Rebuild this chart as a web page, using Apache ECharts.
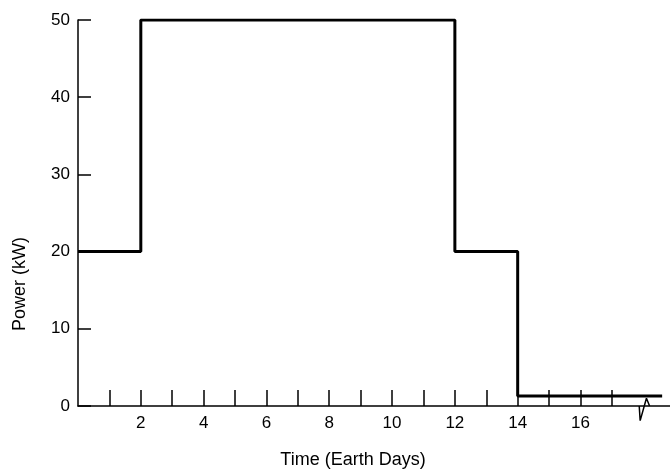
<!DOCTYPE html>
<html>
<head>
<meta charset="utf-8">
<script src="https://cdn.jsdelivr.net/npm/echarts@6/dist/echarts.min.js"></script>
<style>
  html, body { margin: 0; padding: 0; background: #fff; }
  #chart { width: 670px; height: 474px; }
</style>
</head>
<body>
<div id="chart"></div>
<script>
// step profile: power holds each value until the next day in the list
const stepDays = [0, 2, 12, 14, 18.6];
const powerKW = [20, 50, 20, 1.3, 1.3];

const xTickValues = [1, 2, 3, 4, 5, 6, 7, 8, 9, 10, 11, 12, 13, 14, 15, 16, 17];
const xLabelValues = [2, 4, 6, 8, 10, 12, 14, 16];
const yTickValues = [0, 10, 20, 30, 40, 50];

// axis break mark near day 18
const breakDays = [17.87, 17.9, 18.1, 18.2];
const breakKW = [0, -1.9, 1.0, 0];

const font = "'Liberation Sans', Arial, Helvetica, sans-serif";

const chart = echarts.init(document.getElementById("chart"));
chart.setOption({
  animation: false,
  grid: { left: 78, right: 0, top: 20, bottom: 64 },
  xAxis: {
    type: "value",
    min: 0,
    max: 18.85,
    name: "Time (Earth Days)",
    nameLocation: "middle",
    nameGap: 45,
    nameTextStyle: { fontFamily: font, fontSize: 18, color: "#000", padding: [0, 42, 0, 0] },
    splitLine: { show: false },
    axisLine: { lineStyle: { color: "#000", width: 1.5 } },
    axisTick: { inside: true, length: 16, customValues: xTickValues, lineStyle: { color: "#000", width: 1.5 } },
    axisLabel: { customValues: xLabelValues, margin: 9, fontFamily: font, fontSize: 17, color: "#000" },
  },
  yAxis: {
    type: "value",
    min: 0,
    max: 50,
    name: "Power (kW)",
    nameLocation: "middle",
    nameGap: 49,
    nameTextStyle: { fontFamily: font, fontSize: 18, color: "#000", padding: [0, 142, 0, 0] },
    splitLine: { show: false },
    axisLine: { show: true, lineStyle: { color: "#000", width: 1.5 } },
    axisTick: { show: true, inside: true, length: 13, customValues: yTickValues, lineStyle: { color: "#000", width: 1.5 } },
    axisLabel: { customValues: yTickValues, margin: 8, fontFamily: font, fontSize: 17, color: "#000" },
  },
  series: [
    {
      name: "Power",
      type: "line",
      step: "end",
      data: stepDays.map((d, i) => [d, powerKW[i]]),
      showSymbol: false,
      lineStyle: { color: "#000", width: 3 },
    },
    {
      name: "break",
      type: "line",
      clip: false,
      data: breakDays.map((d, i) => [d, breakKW[i]]),
      showSymbol: false,
      lineStyle: { color: "#000", width: 1.5 },
    },
  ],
});
</script>
</body>
</html>
